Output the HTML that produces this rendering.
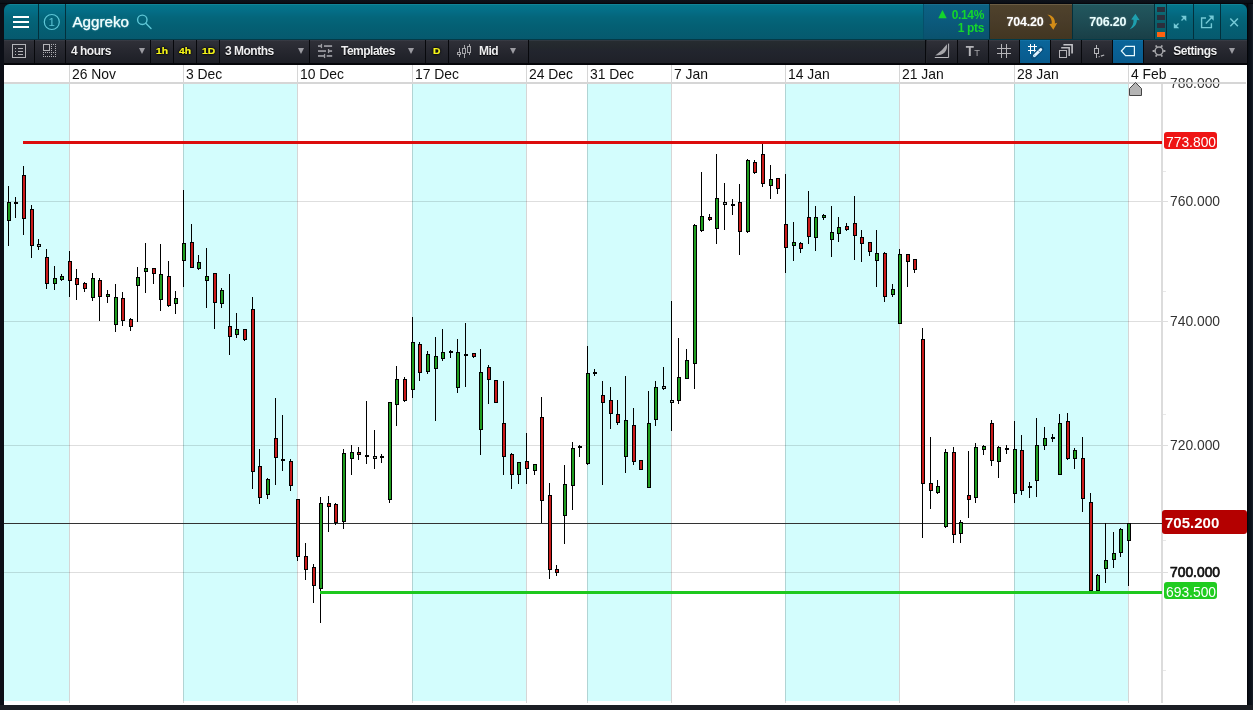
<!DOCTYPE html>
<html lang="en">
<head>
<meta charset="utf-8">
<title>Aggreko - 4 hours chart</title>
<style>
*{box-sizing:border-box;}
html,body{margin:0;padding:0;}
body{width:1253px;height:710px;background:#0b0e16;position:relative;overflow:hidden;font-family:"Liberation Sans",Arial,Helvetica,sans-serif;}
.abs,.hdr *,.tb *,.chart *{position:absolute;}
.hdr{position:absolute;left:4px;top:4px;width:1243px;height:36px;border-radius:6px 6px 0 0;overflow:hidden;
  background:linear-gradient(to bottom,#2390a3 0px,#03768b 1px,#046c85 8px,#04667b 13px,#045f73 23px,#06596e 35px,#033a47 35px,#033a47 36px);}
.hdr .sep{top:0;width:1px;height:35px;background:#03303c;}
.hdr .name{left:68.4px;top:8.5px;font-size:15.2px;line-height:18px;color:#f4ffff;white-space:nowrap;-webkit-text-stroke:0.25px #f4ffff;text-shadow:0 0 2px rgba(160,240,255,.6);}
.hdr .chg{left:920px;top:0;width:65px;height:35px;background:linear-gradient(to bottom,#2a7a96 0px,#0c6284 1px,#0b5a7c 50%,#0a526e);}
.hdr .chg div{right:5px;color:#14d62c;font-weight:bold;font-size:12px;line-height:14px;white-space:nowrap;letter-spacing:-0.35px;}
.hdr .sell{left:986px;top:0;width:82px;height:35px;background:linear-gradient(to bottom,#85765c 0px,#4f422c 1px,#493c29 50%,#423621);}
.hdr .buy{left:1069px;top:0;width:81px;height:35px;background:linear-gradient(to bottom,#3c7a82 0px,#22575e 1px,#1e4c54 50%,#193f47);}
.hdr .px{top:10px;font-weight:bold;font-size:12.5px;line-height:16px;color:#fff;white-space:nowrap;letter-spacing:-0.2px;text-shadow:0 0 2px rgba(255,255,255,.35);}
.hdr .chg .tri{left:14.2px;top:3.2px;font-family:"DejaVu Sans","Liberation Sans",sans-serif;font-size:11px;line-height:14px;color:#14d62c;}
.hdr .sent{left:1151px;top:0;width:11px;height:35px;background:linear-gradient(to bottom,#0e7a88,#0b6470 30%,#0a5a64);}
.hdr .sent i{left:1.5px;width:8px;height:5px;background:#2b2f3c;}
.tb{position:absolute;left:4px;top:40px;width:1243px;height:25px;background:#24262c;border-bottom:2px solid #05060a;overflow:hidden;}
.tb .btn{top:0;height:23px;background:linear-gradient(to bottom,#40434d 0px,#2f3038 1px,#26272f 50%,#1d1f26 100%);border-right:1px solid #07080c;}
.tb .btn.on{background:linear-gradient(to bottom,#1579ae 0px,#0a6599 1px,#095f93 60%,#085a8c 100%);}
.tb .plain{top:0;height:23px;background:linear-gradient(to bottom,#3b4450 0px,#262c30 1px,#23282d 30%,#22252e 50%,#1f2128 100%);}
.tb .t{top:4px;font-weight:bold;font-size:12px;line-height:15px;color:#eeeef0;white-space:nowrap;letter-spacing:-0.5px;text-shadow:0 1px 1px #000;}
.tb .y{top:5px;font-weight:bold;font-size:9.2px;line-height:13px;color:#f6f61a;white-space:nowrap;transform:scaleX(1.12);transform-origin:0 0;-webkit-text-stroke:0.2px #f6f61a;text-shadow:0 0 1px #000,0 0 2px #000,0 0 3px #000;}
.tb .arr{top:8px;width:0;height:0;margin-left:0.5px;border-left:3.7px solid transparent;border-right:3.7px solid transparent;border-top:6.2px solid #9c9ca2;}
.chart{position:absolute;left:0;top:0;width:1253px;height:710px;}
.chart .bg{left:4px;top:65px;width:1243px;height:640px;background:#fff;}
.chart svg{left:0;top:0;}
.xl{top:66px;font-size:13.9px;line-height:16px;color:#111;white-space:nowrap;}
.yl{left:1170px;font-size:13.85px;line-height:16px;color:#333;white-space:nowrap;}
.yl.b{color:#111;-webkit-text-stroke:0.7px #111;}
.tag{font-size:13.85px;line-height:20px;color:#fff;white-space:nowrap;border-radius:3px;}
svg.ic{left:0;top:0;overflow:visible;}
</style>
</head>
<body>
<div class="chart">
  <div style="left:0;top:0;width:1253px;height:4px;background:linear-gradient(to bottom,#0d121a,#0b0f17 60%,#020308)"></div>
  <div style="left:0;top:705px;width:1253px;height:5px;background:#1b1e24"></div>
  <div style="left:1247px;top:4px;width:6px;height:701px;background:linear-gradient(to right,#000 0px,#070b12 1px,#0a1018 3px,#10161e 5px,#1a222c 6px)"></div>
  <div class="bg"></div>
  <svg width="1253" height="710" viewBox="0 0 1253 710" shape-rendering="crispEdges">
<rect x="4" y="84" width="65" height="617" fill="#d3fdfd"/>
<rect x="183" y="84" width="114" height="617" fill="#d3fdfd"/>
<rect x="412" y="84" width="114" height="617" fill="#d3fdfd"/>
<rect x="587" y="84" width="84" height="617" fill="#d3fdfd"/>
<rect x="785" y="84" width="114" height="617" fill="#d3fdfd"/>
<rect x="1014" y="84" width="114" height="617" fill="#d3fdfd"/>
<rect x="4" y="201" width="1164" height="1" fill="#000" fill-opacity="0.13"/>
<rect x="4" y="321" width="1164" height="1" fill="#000" fill-opacity="0.13"/>
<rect x="4" y="445" width="1164" height="1" fill="#000" fill-opacity="0.13"/>
<rect x="4" y="572" width="1164" height="1" fill="#000" fill-opacity="0.13"/>
<rect x="69" y="65" width="1" height="638" fill="#000" fill-opacity="0.16"/>
<rect x="183" y="65" width="1" height="638" fill="#000" fill-opacity="0.16"/>
<rect x="297" y="65" width="1" height="638" fill="#000" fill-opacity="0.16"/>
<rect x="412" y="65" width="1" height="638" fill="#000" fill-opacity="0.16"/>
<rect x="526" y="65" width="1" height="638" fill="#000" fill-opacity="0.16"/>
<rect x="587" y="65" width="1" height="638" fill="#000" fill-opacity="0.16"/>
<rect x="671" y="65" width="1" height="638" fill="#000" fill-opacity="0.16"/>
<rect x="785" y="65" width="1" height="638" fill="#000" fill-opacity="0.16"/>
<rect x="899" y="65" width="1" height="638" fill="#000" fill-opacity="0.16"/>
<rect x="1014" y="65" width="1" height="638" fill="#000" fill-opacity="0.16"/>
<rect x="1128" y="65" width="1" height="638" fill="#000" fill-opacity="0.16"/>
<rect x="4" y="82" width="1242" height="2" fill="#d6d6d6"/>
<rect x="1161" y="84" width="2" height="619" fill="#dcdcdc"/>
<rect x="1163" y="171" width="3" height="1" fill="#e8e8e8"/>
<rect x="1163" y="291" width="3" height="1" fill="#e8e8e8"/>
<rect x="1163" y="414" width="3" height="1" fill="#e8e8e8"/>
<rect x="1163" y="540" width="3" height="1" fill="#e8e8e8"/>
<rect x="1163" y="670" width="3" height="1" fill="#e8e8e8"/>
<rect x="4" y="523" width="1158" height="1" fill="#333"/>
<rect x="8" y="186" width="1" height="60" fill="#000"/>
<rect x="7" y="202" width="4" height="19" fill="#000"/>
<rect x="8" y="203" width="2" height="17" fill="#1e9c1e"/>
<rect x="15" y="197" width="1" height="21" fill="#000"/>
<rect x="14" y="202" width="4" height="2" fill="#000"/>
<rect x="23" y="166" width="1" height="69" fill="#000"/>
<rect x="22" y="175" width="4" height="44" fill="#000"/>
<rect x="23" y="176" width="2" height="42" fill="#c81a1a"/>
<rect x="31" y="205" width="1" height="53" fill="#000"/>
<rect x="30" y="209" width="4" height="37" fill="#000"/>
<rect x="31" y="210" width="2" height="35" fill="#c81a1a"/>
<rect x="38" y="239" width="1" height="11" fill="#000"/>
<rect x="37" y="244" width="4" height="3" fill="#000"/>
<rect x="38" y="245" width="2" height="1" fill="#a9b3ad"/>
<rect x="46" y="249" width="1" height="40" fill="#000"/>
<rect x="45" y="257" width="4" height="27" fill="#000"/>
<rect x="46" y="258" width="2" height="25" fill="#c81a1a"/>
<rect x="54" y="266" width="1" height="24" fill="#000"/>
<rect x="53" y="278" width="4" height="6" fill="#000"/>
<rect x="54" y="279" width="2" height="4" fill="#1e9c1e"/>
<rect x="61" y="274" width="1" height="7" fill="#000"/>
<rect x="60" y="276" width="4" height="4" fill="#000"/>
<rect x="61" y="277" width="2" height="2" fill="#1e9c1e"/>
<rect x="69" y="251" width="1" height="46" fill="#000"/>
<rect x="68" y="261" width="4" height="20" fill="#000"/>
<rect x="69" y="262" width="2" height="18" fill="#c81a1a"/>
<rect x="76" y="269" width="1" height="31" fill="#000"/>
<rect x="75" y="278" width="4" height="7" fill="#000"/>
<rect x="76" y="279" width="2" height="5" fill="#c81a1a"/>
<rect x="84" y="282" width="1" height="10" fill="#000"/>
<rect x="83" y="283" width="4" height="6" fill="#000"/>
<rect x="84" y="284" width="2" height="4" fill="#c81a1a"/>
<rect x="92" y="273" width="1" height="28" fill="#000"/>
<rect x="91" y="278" width="4" height="20" fill="#000"/>
<rect x="92" y="279" width="2" height="18" fill="#1e9c1e"/>
<rect x="99" y="278" width="1" height="43" fill="#000"/>
<rect x="98" y="280" width="4" height="17" fill="#000"/>
<rect x="99" y="281" width="2" height="15" fill="#c81a1a"/>
<rect x="107" y="290" width="1" height="13" fill="#000"/>
<rect x="106" y="294" width="4" height="3" fill="#000"/>
<rect x="107" y="295" width="2" height="1" fill="#1e9c1e"/>
<rect x="115" y="284" width="1" height="48" fill="#000"/>
<rect x="114" y="297" width="4" height="28" fill="#000"/>
<rect x="115" y="298" width="2" height="26" fill="#1e9c1e"/>
<rect x="122" y="292" width="1" height="34" fill="#000"/>
<rect x="121" y="298" width="4" height="23" fill="#000"/>
<rect x="122" y="299" width="2" height="21" fill="#c81a1a"/>
<rect x="130" y="318" width="1" height="13" fill="#000"/>
<rect x="129" y="319" width="4" height="8" fill="#000"/>
<rect x="130" y="320" width="2" height="6" fill="#c81a1a"/>
<rect x="137" y="267" width="1" height="55" fill="#000"/>
<rect x="136" y="277" width="4" height="9" fill="#000"/>
<rect x="137" y="278" width="2" height="7" fill="#1e9c1e"/>
<rect x="145" y="243" width="1" height="50" fill="#000"/>
<rect x="144" y="268" width="4" height="4" fill="#000"/>
<rect x="145" y="269" width="2" height="2" fill="#1e9c1e"/>
<rect x="153" y="268" width="1" height="16" fill="#000"/>
<rect x="152" y="268" width="4" height="6" fill="#000"/>
<rect x="153" y="269" width="2" height="4" fill="#c81a1a"/>
<rect x="160" y="244" width="1" height="67" fill="#000"/>
<rect x="159" y="274" width="4" height="26" fill="#000"/>
<rect x="160" y="275" width="2" height="24" fill="#1e9c1e"/>
<rect x="168" y="261" width="1" height="46" fill="#000"/>
<rect x="167" y="276" width="4" height="30" fill="#000"/>
<rect x="168" y="277" width="2" height="28" fill="#c81a1a"/>
<rect x="175" y="291" width="1" height="23" fill="#000"/>
<rect x="174" y="298" width="4" height="6" fill="#000"/>
<rect x="175" y="299" width="2" height="4" fill="#1e9c1e"/>
<rect x="183" y="190" width="1" height="97" fill="#000"/>
<rect x="182" y="243" width="4" height="18" fill="#000"/>
<rect x="183" y="244" width="2" height="16" fill="#1e9c1e"/>
<rect x="191" y="224" width="1" height="44" fill="#000"/>
<rect x="190" y="242" width="4" height="26" fill="#000"/>
<rect x="191" y="243" width="2" height="24" fill="#c81a1a"/>
<rect x="198" y="255" width="1" height="15" fill="#000"/>
<rect x="197" y="262" width="4" height="7" fill="#000"/>
<rect x="198" y="263" width="2" height="5" fill="#1e9c1e"/>
<rect x="206" y="248" width="1" height="60" fill="#000"/>
<rect x="205" y="276" width="4" height="5" fill="#000"/>
<rect x="206" y="277" width="2" height="3" fill="#1e9c1e"/>
<rect x="214" y="273" width="1" height="56" fill="#000"/>
<rect x="213" y="273" width="4" height="30" fill="#000"/>
<rect x="214" y="274" width="2" height="28" fill="#c81a1a"/>
<rect x="221" y="288" width="1" height="20" fill="#000"/>
<rect x="220" y="290" width="4" height="14" fill="#000"/>
<rect x="221" y="291" width="2" height="12" fill="#1e9c1e"/>
<rect x="229" y="274" width="1" height="81" fill="#000"/>
<rect x="228" y="326" width="4" height="11" fill="#000"/>
<rect x="229" y="327" width="2" height="9" fill="#c81a1a"/>
<rect x="236" y="313" width="1" height="25" fill="#000"/>
<rect x="235" y="329" width="4" height="6" fill="#000"/>
<rect x="236" y="330" width="2" height="4" fill="#1e9c1e"/>
<rect x="244" y="329" width="1" height="12" fill="#000"/>
<rect x="243" y="329" width="4" height="11" fill="#000"/>
<rect x="244" y="330" width="2" height="9" fill="#c81a1a"/>
<rect x="252" y="297" width="1" height="192" fill="#000"/>
<rect x="251" y="309" width="4" height="163" fill="#000"/>
<rect x="252" y="310" width="2" height="161" fill="#c81a1a"/>
<rect x="259" y="449" width="1" height="55" fill="#000"/>
<rect x="258" y="466" width="4" height="32" fill="#000"/>
<rect x="259" y="467" width="2" height="30" fill="#c81a1a"/>
<rect x="267" y="478" width="1" height="21" fill="#000"/>
<rect x="266" y="479" width="4" height="16" fill="#000"/>
<rect x="267" y="480" width="2" height="14" fill="#1e9c1e"/>
<rect x="275" y="398" width="1" height="87" fill="#000"/>
<rect x="274" y="438" width="4" height="20" fill="#000"/>
<rect x="275" y="439" width="2" height="18" fill="#c81a1a"/>
<rect x="282" y="415" width="1" height="56" fill="#000"/>
<rect x="281" y="459" width="4" height="2" fill="#000"/>
<rect x="290" y="459" width="1" height="32" fill="#000"/>
<rect x="289" y="461" width="4" height="25" fill="#000"/>
<rect x="290" y="462" width="2" height="23" fill="#c81a1a"/>
<rect x="297" y="499" width="1" height="62" fill="#000"/>
<rect x="296" y="499" width="4" height="58" fill="#000"/>
<rect x="297" y="500" width="2" height="56" fill="#c81a1a"/>
<rect x="305" y="543" width="1" height="37" fill="#000"/>
<rect x="304" y="556" width="4" height="14" fill="#000"/>
<rect x="305" y="557" width="2" height="12" fill="#c81a1a"/>
<rect x="313" y="564" width="1" height="39" fill="#000"/>
<rect x="312" y="567" width="4" height="19" fill="#000"/>
<rect x="313" y="568" width="2" height="17" fill="#c81a1a"/>
<rect x="320" y="497" width="1" height="126" fill="#000"/>
<rect x="319" y="503" width="4" height="86" fill="#000"/>
<rect x="320" y="504" width="2" height="84" fill="#1e9c1e"/>
<rect x="328" y="496" width="1" height="36" fill="#000"/>
<rect x="327" y="503" width="4" height="4" fill="#000"/>
<rect x="328" y="504" width="2" height="2" fill="#c81a1a"/>
<rect x="335" y="503" width="1" height="22" fill="#000"/>
<rect x="334" y="504" width="4" height="19" fill="#000"/>
<rect x="335" y="505" width="2" height="17" fill="#c81a1a"/>
<rect x="343" y="449" width="1" height="80" fill="#000"/>
<rect x="342" y="453" width="4" height="69" fill="#000"/>
<rect x="343" y="454" width="2" height="67" fill="#1e9c1e"/>
<rect x="351" y="445" width="1" height="30" fill="#000"/>
<rect x="350" y="452" width="4" height="7" fill="#000"/>
<rect x="351" y="453" width="2" height="5" fill="#1e9c1e"/>
<rect x="358" y="447" width="1" height="13" fill="#000"/>
<rect x="357" y="452" width="4" height="3" fill="#000"/>
<rect x="358" y="453" width="2" height="1" fill="#c81a1a"/>
<rect x="366" y="401" width="1" height="63" fill="#000"/>
<rect x="365" y="455" width="4" height="2" fill="#000"/>
<rect x="374" y="430" width="1" height="39" fill="#000"/>
<rect x="373" y="456" width="4" height="3" fill="#000"/>
<rect x="374" y="457" width="2" height="1" fill="#a9b3ad"/>
<rect x="381" y="454" width="1" height="9" fill="#000"/>
<rect x="380" y="456" width="4" height="2" fill="#000"/>
<rect x="389" y="402" width="1" height="101" fill="#000"/>
<rect x="388" y="402" width="4" height="98" fill="#000"/>
<rect x="389" y="403" width="2" height="96" fill="#1e9c1e"/>
<rect x="396" y="366" width="1" height="60" fill="#000"/>
<rect x="395" y="379" width="4" height="26" fill="#000"/>
<rect x="396" y="380" width="2" height="24" fill="#1e9c1e"/>
<rect x="404" y="377" width="1" height="25" fill="#000"/>
<rect x="403" y="379" width="4" height="22" fill="#000"/>
<rect x="404" y="380" width="2" height="20" fill="#c81a1a"/>
<rect x="412" y="317" width="1" height="81" fill="#000"/>
<rect x="411" y="342" width="4" height="48" fill="#000"/>
<rect x="412" y="343" width="2" height="46" fill="#1e9c1e"/>
<rect x="419" y="342" width="1" height="39" fill="#000"/>
<rect x="418" y="344" width="4" height="29" fill="#000"/>
<rect x="419" y="345" width="2" height="27" fill="#c81a1a"/>
<rect x="427" y="351" width="1" height="23" fill="#000"/>
<rect x="426" y="354" width="4" height="18" fill="#000"/>
<rect x="427" y="355" width="2" height="16" fill="#1e9c1e"/>
<rect x="435" y="337" width="1" height="84" fill="#000"/>
<rect x="434" y="356" width="4" height="13" fill="#000"/>
<rect x="435" y="357" width="2" height="11" fill="#1e9c1e"/>
<rect x="442" y="329" width="1" height="32" fill="#000"/>
<rect x="441" y="352" width="4" height="7" fill="#000"/>
<rect x="442" y="353" width="2" height="5" fill="#1e9c1e"/>
<rect x="450" y="350" width="1" height="8" fill="#000"/>
<rect x="449" y="351" width="4" height="2" fill="#000"/>
<rect x="457" y="339" width="1" height="54" fill="#000"/>
<rect x="456" y="352" width="4" height="36" fill="#000"/>
<rect x="457" y="353" width="2" height="34" fill="#1e9c1e"/>
<rect x="465" y="323" width="1" height="64" fill="#000"/>
<rect x="464" y="354" width="4" height="2" fill="#000"/>
<rect x="473" y="353" width="1" height="5" fill="#000"/>
<rect x="472" y="353" width="4" height="4" fill="#000"/>
<rect x="473" y="354" width="2" height="2" fill="#c81a1a"/>
<rect x="480" y="349" width="1" height="106" fill="#000"/>
<rect x="479" y="372" width="4" height="58" fill="#000"/>
<rect x="480" y="373" width="2" height="56" fill="#1e9c1e"/>
<rect x="488" y="365" width="1" height="39" fill="#000"/>
<rect x="487" y="367" width="4" height="13" fill="#000"/>
<rect x="488" y="368" width="2" height="11" fill="#c81a1a"/>
<rect x="495" y="380" width="1" height="23" fill="#000"/>
<rect x="494" y="380" width="4" height="23" fill="#000"/>
<rect x="495" y="381" width="2" height="21" fill="#c81a1a"/>
<rect x="503" y="381" width="1" height="94" fill="#000"/>
<rect x="502" y="423" width="4" height="34" fill="#000"/>
<rect x="503" y="424" width="2" height="32" fill="#c81a1a"/>
<rect x="511" y="453" width="1" height="36" fill="#000"/>
<rect x="510" y="454" width="4" height="21" fill="#000"/>
<rect x="511" y="455" width="2" height="19" fill="#c81a1a"/>
<rect x="518" y="462" width="1" height="22" fill="#000"/>
<rect x="517" y="462" width="4" height="13" fill="#000"/>
<rect x="518" y="463" width="2" height="11" fill="#1e9c1e"/>
<rect x="526" y="433" width="1" height="51" fill="#000"/>
<rect x="525" y="461" width="4" height="8" fill="#000"/>
<rect x="526" y="462" width="2" height="6" fill="#c81a1a"/>
<rect x="534" y="464" width="1" height="11" fill="#000"/>
<rect x="533" y="464" width="4" height="7" fill="#000"/>
<rect x="534" y="465" width="2" height="5" fill="#1e9c1e"/>
<rect x="541" y="397" width="1" height="126" fill="#000"/>
<rect x="540" y="417" width="4" height="84" fill="#000"/>
<rect x="541" y="418" width="2" height="82" fill="#c81a1a"/>
<rect x="549" y="483" width="1" height="96" fill="#000"/>
<rect x="548" y="495" width="4" height="75" fill="#000"/>
<rect x="549" y="496" width="2" height="73" fill="#c81a1a"/>
<rect x="556" y="565" width="1" height="11" fill="#000"/>
<rect x="555" y="569" width="4" height="4" fill="#000"/>
<rect x="556" y="570" width="2" height="2" fill="#c81a1a"/>
<rect x="564" y="465" width="1" height="79" fill="#000"/>
<rect x="563" y="484" width="4" height="32" fill="#000"/>
<rect x="564" y="485" width="2" height="30" fill="#1e9c1e"/>
<rect x="572" y="442" width="1" height="68" fill="#000"/>
<rect x="571" y="448" width="4" height="38" fill="#000"/>
<rect x="572" y="449" width="2" height="36" fill="#1e9c1e"/>
<rect x="579" y="445" width="1" height="12" fill="#000"/>
<rect x="578" y="446" width="4" height="2" fill="#000"/>
<rect x="587" y="346" width="1" height="119" fill="#000"/>
<rect x="586" y="373" width="4" height="91" fill="#000"/>
<rect x="587" y="374" width="2" height="89" fill="#1e9c1e"/>
<rect x="594" y="369" width="1" height="7" fill="#000"/>
<rect x="593" y="372" width="4" height="2" fill="#000"/>
<rect x="602" y="381" width="1" height="104" fill="#000"/>
<rect x="601" y="395" width="4" height="8" fill="#000"/>
<rect x="602" y="396" width="2" height="6" fill="#c81a1a"/>
<rect x="610" y="387" width="1" height="42" fill="#000"/>
<rect x="609" y="400" width="4" height="14" fill="#000"/>
<rect x="610" y="401" width="2" height="12" fill="#c81a1a"/>
<rect x="617" y="400" width="1" height="25" fill="#000"/>
<rect x="616" y="414" width="4" height="9" fill="#000"/>
<rect x="617" y="415" width="2" height="7" fill="#c81a1a"/>
<rect x="625" y="376" width="1" height="97" fill="#000"/>
<rect x="624" y="420" width="4" height="37" fill="#000"/>
<rect x="625" y="421" width="2" height="35" fill="#1e9c1e"/>
<rect x="633" y="408" width="1" height="57" fill="#000"/>
<rect x="632" y="425" width="4" height="37" fill="#000"/>
<rect x="633" y="426" width="2" height="35" fill="#c81a1a"/>
<rect x="640" y="460" width="1" height="10" fill="#000"/>
<rect x="639" y="460" width="4" height="10" fill="#000"/>
<rect x="640" y="461" width="2" height="8" fill="#c81a1a"/>
<rect x="648" y="391" width="1" height="97" fill="#000"/>
<rect x="647" y="423" width="4" height="65" fill="#000"/>
<rect x="648" y="424" width="2" height="63" fill="#1e9c1e"/>
<rect x="655" y="381" width="1" height="45" fill="#000"/>
<rect x="654" y="387" width="4" height="33" fill="#000"/>
<rect x="655" y="388" width="2" height="31" fill="#1e9c1e"/>
<rect x="663" y="367" width="1" height="23" fill="#000"/>
<rect x="662" y="386" width="4" height="3" fill="#000"/>
<rect x="663" y="387" width="2" height="1" fill="#a9b3ad"/>
<rect x="671" y="301" width="1" height="130" fill="#000"/>
<rect x="670" y="400" width="4" height="3" fill="#000"/>
<rect x="671" y="401" width="2" height="1" fill="#a9b3ad"/>
<rect x="678" y="338" width="1" height="66" fill="#000"/>
<rect x="677" y="377" width="4" height="24" fill="#000"/>
<rect x="678" y="378" width="2" height="22" fill="#1e9c1e"/>
<rect x="686" y="349" width="1" height="30" fill="#000"/>
<rect x="685" y="360" width="4" height="19" fill="#000"/>
<rect x="686" y="361" width="2" height="17" fill="#1e9c1e"/>
<rect x="694" y="224" width="1" height="165" fill="#000"/>
<rect x="693" y="225" width="4" height="139" fill="#000"/>
<rect x="694" y="226" width="2" height="137" fill="#1e9c1e"/>
<rect x="701" y="172" width="1" height="60" fill="#000"/>
<rect x="700" y="216" width="4" height="15" fill="#000"/>
<rect x="701" y="217" width="2" height="13" fill="#1e9c1e"/>
<rect x="709" y="214" width="1" height="7" fill="#000"/>
<rect x="708" y="217" width="4" height="3" fill="#000"/>
<rect x="709" y="218" width="2" height="1" fill="#c81a1a"/>
<rect x="716" y="154" width="1" height="90" fill="#000"/>
<rect x="715" y="198" width="4" height="31" fill="#000"/>
<rect x="716" y="199" width="2" height="29" fill="#1e9c1e"/>
<rect x="724" y="183" width="1" height="47" fill="#000"/>
<rect x="723" y="202" width="4" height="3" fill="#000"/>
<rect x="724" y="203" width="2" height="1" fill="#a9b3ad"/>
<rect x="732" y="199" width="1" height="16" fill="#000"/>
<rect x="731" y="204" width="4" height="2" fill="#000"/>
<rect x="739" y="184" width="1" height="71" fill="#000"/>
<rect x="738" y="202" width="4" height="30" fill="#000"/>
<rect x="739" y="203" width="2" height="28" fill="#c81a1a"/>
<rect x="747" y="159" width="1" height="74" fill="#000"/>
<rect x="746" y="160" width="4" height="72" fill="#000"/>
<rect x="747" y="161" width="2" height="70" fill="#1e9c1e"/>
<rect x="754" y="160" width="1" height="14" fill="#000"/>
<rect x="753" y="162" width="4" height="11" fill="#000"/>
<rect x="754" y="163" width="2" height="9" fill="#c81a1a"/>
<rect x="762" y="144" width="1" height="43" fill="#000"/>
<rect x="761" y="154" width="4" height="30" fill="#000"/>
<rect x="762" y="155" width="2" height="28" fill="#c81a1a"/>
<rect x="770" y="165" width="1" height="34" fill="#000"/>
<rect x="769" y="179" width="4" height="7" fill="#000"/>
<rect x="770" y="180" width="2" height="5" fill="#1e9c1e"/>
<rect x="777" y="178" width="1" height="16" fill="#000"/>
<rect x="776" y="178" width="4" height="11" fill="#000"/>
<rect x="777" y="179" width="2" height="9" fill="#c81a1a"/>
<rect x="785" y="174" width="1" height="99" fill="#000"/>
<rect x="784" y="224" width="4" height="24" fill="#000"/>
<rect x="785" y="225" width="2" height="22" fill="#c81a1a"/>
<rect x="793" y="222" width="1" height="39" fill="#000"/>
<rect x="792" y="242" width="4" height="4" fill="#000"/>
<rect x="793" y="243" width="2" height="2" fill="#1e9c1e"/>
<rect x="800" y="242" width="1" height="11" fill="#000"/>
<rect x="799" y="243" width="4" height="6" fill="#000"/>
<rect x="800" y="244" width="2" height="4" fill="#c81a1a"/>
<rect x="808" y="191" width="1" height="53" fill="#000"/>
<rect x="807" y="217" width="4" height="20" fill="#000"/>
<rect x="808" y="218" width="2" height="18" fill="#c81a1a"/>
<rect x="815" y="206" width="1" height="45" fill="#000"/>
<rect x="814" y="217" width="4" height="21" fill="#000"/>
<rect x="815" y="218" width="2" height="19" fill="#1e9c1e"/>
<rect x="823" y="214" width="1" height="6" fill="#000"/>
<rect x="822" y="215" width="4" height="3" fill="#000"/>
<rect x="823" y="216" width="2" height="1" fill="#1e9c1e"/>
<rect x="831" y="206" width="1" height="51" fill="#000"/>
<rect x="830" y="232" width="4" height="8" fill="#000"/>
<rect x="831" y="233" width="2" height="6" fill="#1e9c1e"/>
<rect x="838" y="217" width="1" height="25" fill="#000"/>
<rect x="837" y="227" width="4" height="7" fill="#000"/>
<rect x="838" y="228" width="2" height="5" fill="#1e9c1e"/>
<rect x="846" y="223" width="1" height="8" fill="#000"/>
<rect x="845" y="226" width="4" height="4" fill="#000"/>
<rect x="846" y="227" width="2" height="2" fill="#c81a1a"/>
<rect x="854" y="196" width="1" height="64" fill="#000"/>
<rect x="853" y="223" width="4" height="13" fill="#000"/>
<rect x="854" y="224" width="2" height="11" fill="#c81a1a"/>
<rect x="861" y="230" width="1" height="32" fill="#000"/>
<rect x="860" y="237" width="4" height="7" fill="#000"/>
<rect x="861" y="238" width="2" height="5" fill="#c81a1a"/>
<rect x="869" y="242" width="1" height="14" fill="#000"/>
<rect x="868" y="242" width="4" height="10" fill="#000"/>
<rect x="869" y="243" width="2" height="8" fill="#c81a1a"/>
<rect x="876" y="230" width="1" height="57" fill="#000"/>
<rect x="875" y="253" width="4" height="8" fill="#000"/>
<rect x="876" y="254" width="2" height="6" fill="#1e9c1e"/>
<rect x="884" y="252" width="1" height="50" fill="#000"/>
<rect x="883" y="253" width="4" height="44" fill="#000"/>
<rect x="884" y="254" width="2" height="42" fill="#c81a1a"/>
<rect x="892" y="284" width="1" height="13" fill="#000"/>
<rect x="891" y="289" width="4" height="6" fill="#000"/>
<rect x="892" y="290" width="2" height="4" fill="#1e9c1e"/>
<rect x="899" y="249" width="1" height="75" fill="#000"/>
<rect x="898" y="254" width="4" height="70" fill="#000"/>
<rect x="899" y="255" width="2" height="68" fill="#1e9c1e"/>
<rect x="907" y="254" width="1" height="33" fill="#000"/>
<rect x="906" y="254" width="4" height="8" fill="#000"/>
<rect x="907" y="255" width="2" height="6" fill="#c81a1a"/>
<rect x="914" y="259" width="1" height="14" fill="#000"/>
<rect x="913" y="259" width="4" height="11" fill="#000"/>
<rect x="914" y="260" width="2" height="9" fill="#c81a1a"/>
<rect x="922" y="328" width="1" height="210" fill="#000"/>
<rect x="921" y="339" width="4" height="145" fill="#000"/>
<rect x="922" y="340" width="2" height="143" fill="#c81a1a"/>
<rect x="930" y="437" width="1" height="72" fill="#000"/>
<rect x="929" y="483" width="4" height="8" fill="#000"/>
<rect x="930" y="484" width="2" height="6" fill="#c81a1a"/>
<rect x="937" y="480" width="1" height="14" fill="#000"/>
<rect x="936" y="486" width="4" height="7" fill="#000"/>
<rect x="937" y="487" width="2" height="5" fill="#1e9c1e"/>
<rect x="945" y="449" width="1" height="79" fill="#000"/>
<rect x="944" y="452" width="4" height="75" fill="#000"/>
<rect x="945" y="453" width="2" height="73" fill="#1e9c1e"/>
<rect x="953" y="447" width="1" height="96" fill="#000"/>
<rect x="952" y="452" width="4" height="83" fill="#000"/>
<rect x="953" y="453" width="2" height="81" fill="#c81a1a"/>
<rect x="960" y="520" width="1" height="23" fill="#000"/>
<rect x="959" y="522" width="4" height="12" fill="#000"/>
<rect x="960" y="523" width="2" height="10" fill="#1e9c1e"/>
<rect x="968" y="451" width="1" height="67" fill="#000"/>
<rect x="967" y="495" width="4" height="5" fill="#000"/>
<rect x="968" y="496" width="2" height="3" fill="#c81a1a"/>
<rect x="975" y="443" width="1" height="60" fill="#000"/>
<rect x="974" y="447" width="4" height="51" fill="#000"/>
<rect x="975" y="448" width="2" height="49" fill="#1e9c1e"/>
<rect x="983" y="445" width="1" height="10" fill="#000"/>
<rect x="982" y="446" width="4" height="4" fill="#000"/>
<rect x="983" y="447" width="2" height="2" fill="#1e9c1e"/>
<rect x="991" y="420" width="1" height="46" fill="#000"/>
<rect x="990" y="423" width="4" height="38" fill="#000"/>
<rect x="991" y="424" width="2" height="36" fill="#c81a1a"/>
<rect x="998" y="446" width="1" height="32" fill="#000"/>
<rect x="997" y="447" width="4" height="15" fill="#000"/>
<rect x="998" y="448" width="2" height="13" fill="#1e9c1e"/>
<rect x="1006" y="445" width="1" height="9" fill="#000"/>
<rect x="1005" y="448" width="4" height="2" fill="#000"/>
<rect x="1014" y="421" width="1" height="82" fill="#000"/>
<rect x="1013" y="449" width="4" height="45" fill="#000"/>
<rect x="1014" y="450" width="2" height="43" fill="#1e9c1e"/>
<rect x="1021" y="435" width="1" height="60" fill="#000"/>
<rect x="1020" y="450" width="4" height="41" fill="#000"/>
<rect x="1021" y="451" width="2" height="39" fill="#c81a1a"/>
<rect x="1029" y="482" width="1" height="16" fill="#000"/>
<rect x="1028" y="486" width="4" height="2" fill="#000"/>
<rect x="1036" y="418" width="1" height="79" fill="#000"/>
<rect x="1035" y="445" width="4" height="36" fill="#000"/>
<rect x="1036" y="446" width="2" height="34" fill="#1e9c1e"/>
<rect x="1044" y="427" width="1" height="23" fill="#000"/>
<rect x="1043" y="438" width="4" height="8" fill="#000"/>
<rect x="1044" y="439" width="2" height="6" fill="#1e9c1e"/>
<rect x="1052" y="434" width="1" height="8" fill="#000"/>
<rect x="1051" y="437" width="4" height="2" fill="#000"/>
<rect x="1059" y="414" width="1" height="61" fill="#000"/>
<rect x="1058" y="423" width="4" height="52" fill="#000"/>
<rect x="1059" y="424" width="2" height="50" fill="#1e9c1e"/>
<rect x="1067" y="413" width="1" height="47" fill="#000"/>
<rect x="1066" y="421" width="4" height="38" fill="#000"/>
<rect x="1067" y="422" width="2" height="36" fill="#c81a1a"/>
<rect x="1074" y="448" width="1" height="21" fill="#000"/>
<rect x="1073" y="450" width="4" height="9" fill="#000"/>
<rect x="1074" y="451" width="2" height="7" fill="#1e9c1e"/>
<rect x="1082" y="437" width="1" height="75" fill="#000"/>
<rect x="1081" y="458" width="4" height="41" fill="#000"/>
<rect x="1082" y="459" width="2" height="39" fill="#c81a1a"/>
<rect x="1090" y="493" width="1" height="98" fill="#000"/>
<rect x="1089" y="502" width="4" height="89" fill="#000"/>
<rect x="1090" y="503" width="2" height="87" fill="#c81a1a"/>
<rect x="1097" y="574" width="1" height="17" fill="#000"/>
<rect x="1096" y="575" width="4" height="16" fill="#000"/>
<rect x="1097" y="576" width="2" height="14" fill="#1e9c1e"/>
<rect x="1105" y="523" width="1" height="60" fill="#000"/>
<rect x="1104" y="560" width="4" height="9" fill="#000"/>
<rect x="1105" y="561" width="2" height="7" fill="#1e9c1e"/>
<rect x="1113" y="532" width="1" height="36" fill="#000"/>
<rect x="1112" y="553" width="4" height="7" fill="#000"/>
<rect x="1113" y="554" width="2" height="5" fill="#1e9c1e"/>
<rect x="1120" y="528" width="1" height="29" fill="#000"/>
<rect x="1119" y="529" width="4" height="24" fill="#000"/>
<rect x="1120" y="530" width="2" height="22" fill="#1e9c1e"/>
<rect x="1128" y="523" width="1" height="63" fill="#000"/>
<rect x="1127" y="523" width="4" height="18" fill="#000"/>
<rect x="1128" y="524" width="2" height="16" fill="#1e9c1e"/>
<rect x="23" y="141" width="1139" height="3" fill="#dc0c0c"/>
<rect x="320" y="591" width="842" height="3" fill="#1ec81e"/>
<path d="M1129.5 95.5 V88.5 L1135.5 82.5 L1141.5 88.5 V95.5 Z" fill="#b4b4b4" stroke="#444" stroke-width="1" shape-rendering="geometricPrecision"/>
  </svg>
<div class="xl" style="left:72px">26 Nov</div>
<div class="xl" style="left:186px">3 Dec</div>
<div class="xl" style="left:300px">10 Dec</div>
<div class="xl" style="left:415px">17 Dec</div>
<div class="xl" style="left:529px">24 Dec</div>
<div class="xl" style="left:590px">31 Dec</div>
<div class="xl" style="left:674px">7 Jan</div>
<div class="xl" style="left:788px">14 Jan</div>
<div class="xl" style="left:902px">21 Jan</div>
<div class="xl" style="left:1017px">28 Jan</div>
<div class="xl" style="left:1131px">4 Feb</div>
<div class="yl" style="top:75px">780.000</div>
<div class="yl" style="top:193px">760.000</div>
<div class="yl" style="top:313px">740.000</div>
<div class="yl" style="top:437px">720.000</div>
<div class="yl b" style="top:564px">700.000</div>
  <div style="left:1163px;top:82px;width:83px;height:2px;background:rgba(214,214,214,.8)"></div>
  <div class="tag" style="left:1164px;top:132px;width:53px;height:17px;background:#ee1414;padding-left:2px;">773.800</div>
  <div class="tag" style="left:1164px;top:582px;width:53px;height:17px;background:#20cc20;padding-left:2px;">693.500</div>
  <div class="tag" style="left:1162px;top:510px;width:85px;height:24px;background:#b40000;padding-left:3px;font-weight:bold;font-size:15px;line-height:25px;border-radius:3px;">705.200</div>
</div>

<div class="hdr">
  <div class="sep" style="left:34px"></div>
  <div class="sep" style="left:61px"></div>
  <div class="name">Aggreko</div>
  <div class="chg"><span class="tri">&#9650;</span><div style="top:4px">0.14%</div><div style="top:17px">1 pts</div></div>
  <div class="sep" style="left:919px;background:#05506a"></div>
  <div class="sep" style="left:985px"></div>
  <div class="sell"><div class="px" style="left:16.500px">704.20</div></div>
  <div class="sep" style="left:1068px"></div>
  <div class="buy"><div class="px" style="left:16.3px;color:#eaffff">706.20</div></div>
  <div class="sep" style="left:1150px"></div>
  <div class="sent"><i style="top:3px"></i><i style="top:11px"></i><i style="top:19px"></i><i style="top:28px;background:#ff6210"></i></div>
  <div class="sep" style="left:1162px"></div>
  <div class="sep" style="left:1189px"></div>
  <div class="sep" style="left:1216px"></div>
  <svg class="ic" width="1243" height="36" viewBox="4 4 1243 36">
    <g fill="#fff" shape-rendering="crispEdges"><rect x="13" y="16" width="16" height="2"/><rect x="13" y="21" width="16" height="2"/><rect x="13" y="26" width="16" height="2"/></g>
    <circle cx="51.8" cy="22" r="7.5" fill="none" stroke="#5ec6d6" stroke-width="1.2"/>
    <text x="51.8" y="26.2" font-size="11.5" fill="#5ec6d6" text-anchor="middle" font-family="Liberation Sans, Arial, sans-serif">1</text>
    <g fill="none" stroke="#5ec6d6" stroke-width="1.4" stroke-linecap="round"><circle cx="142.3" cy="19.8" r="4.7"/><path d="M145.8 23.3 L151 28.6"/></g>
    <!-- sell arrow -->
    <path d="M1047.4 14.400 C1052.6 15.2 1055.4 18.8 1054.9 23.4 L1057.3 22.8 L1053.3 29.8 L1049.3 23.9 L1051.7 23.8 C1052.2 20.2 1050.8 16.800 1047.4 14.400 Z" fill="#d38c17"/>
    <!-- buy arrow -->
    <path d="M1129.6 29.4 C1134.6 27.2 1137 23.8 1136.9 19.900 L1139.700 20.3 L1135.4 13.8 L1131.2 19.600 L1133.5 19.8 C1133.8 23.2 1132.6 26.4 1129.6 29.4 Z" fill="#1e9fae"/>
    <!-- expand -->
    <g stroke="#74c9d6" stroke-width="1.4" fill="none"><path d="M1181.5 20.5 L1185 17 M1175 27 L1178.5 23.5"/></g>
    <g fill="#74c9d6"><path d="M1186.3 15.8 L1186.3 21.2 L1180.9 15.8 Z"/><path d="M1173.8 28.3 L1173.8 22.9 L1179.2 28.3 Z"/></g>
    <!-- popup -->
    <g stroke="#74c9d6" stroke-width="1.4" fill="none"><path d="M1206 18 H1201.6 V27.6 H1211.4 V23.2"/><path d="M1205.8 23.6 L1212.5 16.8"/></g>
    <path d="M1213.7 15.6 L1213.7 20.8 L1208.5 15.6 Z" fill="#74c9d6"/>
    <!-- close -->
    <g stroke="#74c9d6" stroke-width="1.5" fill="none"><path d="M1230.3 18.4 L1237.9 26.2"/><path d="M1237.9 18.4 L1230.3 26.2"/></g>
  </svg>
</div>

<div class="tb">
  <div class="btn" style="left:0;width:31px"></div>
  <div class="btn" style="left:31px;width:31px"></div>
  <div class="btn" style="left:62px;width:85px"><div class="t" style="left:5px">4 hours</div><div class="arr" style="left:72px"></div></div>
  <div class="btn" style="left:147px;width:23px"><div class="y" style="left:5.400px">1h</div></div>
  <div class="btn" style="left:170px;width:23px"><div class="y" style="left:5.2px">4h</div></div>
  <div class="btn" style="left:193px;width:23px"><div class="y" style="left:5px">1D</div></div>
  <div class="btn" style="left:216px;width:90px"><div class="t" style="left:5px">3 Months</div><div class="arr" style="left:77px"></div></div>
  <div class="btn" style="left:306px;width:116px"><div class="t" style="left:31px">Templates</div><div class="arr" style="left:97px"></div></div>
  <div class="btn" style="left:422px;width:23px"><div class="y" style="left:7px">D</div></div>
  <div class="btn" style="left:445px;width:80px"><div class="t" style="left:30px">Mid</div><div class="arr" style="left:60px"></div></div>
  <div class="plain" style="left:525px;width:397px;border-right:1px solid #07080c"></div>
  <div class="btn" style="left:923px;width:31px"></div>
  <div class="btn" style="left:954px;width:31px"></div>
  <div class="btn" style="left:985px;width:31px"></div>
  <div class="btn on" style="left:1016px;width:31px"></div>
  <div class="btn" style="left:1047px;width:31px"></div>
  <div class="btn" style="left:1078px;width:31px"></div>
  <div class="btn on" style="left:1109px;width:31px"></div>
  <div class="btn" style="left:1140px;width:103px;border-right:0"><div class="t" style="left:29.3px">Settings</div><div class="arr" style="left:84px"></div></div>
  <svg class="ic" width="1243" height="24" viewBox="4 40 1243 24">
    <!-- list icon -->
    <g fill="none" stroke="#b4b4b8" stroke-width="1" shape-rendering="crispEdges"><rect x="12.5" y="44.5" width="13" height="13"/><path d="M18 48.5 H23 M18 51.5 H23 M18 54.5 H23"/><path d="M15 48.5 H16 M15 51.5 H16 M15 54.5 H16"/></g>
    <!-- layout icon -->
    <g shape-rendering="crispEdges"><rect x="43.5" y="44.5" width="6" height="6" fill="none" stroke="#b4b4b8" stroke-width="1"/><path d="M43 52h1v1h-1zM43 54h1v1h-1zM43 56h1v1h-1zM45 52h1v1h-1zM45 56h1v1h-1zM47 52h1v1h-1zM47 56h1v1h-1zM49 52h1v1h-1zM49 56h1v1h-1zM51 44h1v1h-1zM51 46h1v1h-1zM51 48h1v1h-1zM51 50h1v1h-1zM51 52h1v1h-1zM51 54h1v1h-1zM51 56h1v1h-1zM53 44h1v1h-1zM53 52h1v1h-1zM53 56h1v1h-1zM55 44h1v1h-1zM55 46h1v1h-1zM55 48h1v1h-1zM55 50h1v1h-1zM55 52h1v1h-1zM55 54h1v1h-1zM55 56h1v1h-1z" fill="#b0b0b4"/></g>
    <!-- templates icon -->
    <g fill="#9c9ca2" shape-rendering="geometricPrecision"><rect x="318" y="45.2" width="3" height="1.7"/><rect x="320.8" y="43.900" width="1.3" height="4.2"/><rect x="324" y="45.2" width="8.1" height="1.7"/><rect x="318" y="50.2" width="8" height="1.7"/><rect x="327.9" y="49" width="1.3" height="4.1"/><rect x="329" y="50.2" width="3.1" height="1.7"/><rect x="318" y="55.1" width="6" height="1.7"/><rect x="323.900" y="53.900" width="1.3" height="4.2"/><rect x="326.7" y="55.1" width="5.5" height="1.7"/></g>
    <!-- candle type icon -->
    <g fill="none" stroke="#a4a4a8" stroke-width="1" shape-rendering="crispEdges"><rect x="457.5" y="52.5" width="3" height="2"/><path d="M459 48 V52 M459 55 V57"/><rect x="462.5" y="48.5" width="3" height="5"/><path d="M464 45 V48 M464 54 V58"/><rect x="467.5" y="46.5" width="3" height="6"/><path d="M469 44 V46 M469 53 V55"/></g>
    <!-- trend icon -->
    <g shape-rendering="geometricPrecision"><path d="M935.3 55.6 Q942.500 50.5 946.9 44.2 Q948.2 54.8 935.3 55.6 Z" fill="#a6a6aa"/><path d="M948.6 43.6 V57.5 H934.8" fill="none" stroke="#b8b8bc" stroke-width="1"/></g>
    <!-- text icon -->
    <text transform="translate(965.7 56) scale(0.95 1)" font-size="14" font-weight="bold" fill="#b4b4b8" font-family="Liberation Sans, Arial, sans-serif">T</text>
    <text transform="translate(974.3 56) scale(0.98 1)" font-size="9.5" fill="#a4a4a8" font-family="Liberation Sans, Arial, sans-serif">T</text>
    <!-- grid icon -->
    <g fill="#b4b4b8" shape-rendering="crispEdges"><rect x="1001" y="44" width="1" height="14"/><rect x="1006" y="44" width="1" height="14"/><rect x="997" y="48" width="14" height="1"/><rect x="997" y="53" width="14" height="1"/></g>
    <!-- grid + dropper -->
    <g fill="#fff" shape-rendering="crispEdges"><rect x="1030" y="44" width="1" height="10"/><rect x="1034" y="44" width="1" height="10"/><rect x="1028" y="46" width="9" height="1"/><rect x="1028" y="50" width="9" height="1"/></g>
    <path d="M1041 49.200 L1033.2 57" stroke="#0a4f7c" stroke-width="5.4" stroke-linecap="round" fill="none"/>
    <path d="M1040.8 49.4 L1034.4 55.8" stroke="#e4f4ff" stroke-width="2.8" stroke-linecap="round" fill="none"/>
    <path d="M1034.6 54.6 L1035.6 55.6 L1032.6 57.600 Z" fill="#9fd4ee"/>
    <path d="M1038.4 50.6 L1039.6 51.8" stroke="#0a4f7c" stroke-width="0.9" fill="none"/>
    <!-- stacked squares -->
    <g fill="none" shape-rendering="geometricPrecision"><rect x="1059.5" y="50.5" width="7" height="7" stroke="#b4b4b8" stroke-width="1"/><path d="M1061.2 47.8 H1069.2 V55.9" stroke="#bcbcc0" stroke-width="1.5"/><path d="M1063.4 44.8 H1072.1 V53.600" stroke="#c4c4c8" stroke-width="1.6"/></g>
    <!-- candle dash icon -->
    <g fill="none" stroke="#b4b4b8" stroke-width="1" shape-rendering="crispEdges"><rect x="1094.500" y="48.5" width="4" height="5"/><path d="M1096.5 45 V48 M1096.5 54 V58"/></g>
    <path d="M1098.6 56.9 L1104.2 55" stroke="#b4b4b8" stroke-width="1.1" stroke-dasharray="1.2 1.2 4 0" fill="none"/>
    <!-- tag icon -->
    <path d="M1121.4 51 L1125.6 46.4 H1134.4 V55.600 H1125.6 Z" fill="none" stroke="#e8fbff" stroke-width="1.2"/>
    <!-- gear -->
    <g fill="none" stroke="#a4a4a8"><circle cx="1159" cy="51" r="3.9" stroke-width="1.5"/><path d="M1152.6 51 H1154.8 M1163.2 51 H1165.4 M1156.9 47.4 L1155.8 45.4 M1161.1 47.4 L1162.2 45.4 M1156.9 54.6 L1155.8 56.6 M1161.1 54.6 L1162.2 56.6" stroke-width="1.8"/></g>
  </svg>
</div>
</body>
</html>
